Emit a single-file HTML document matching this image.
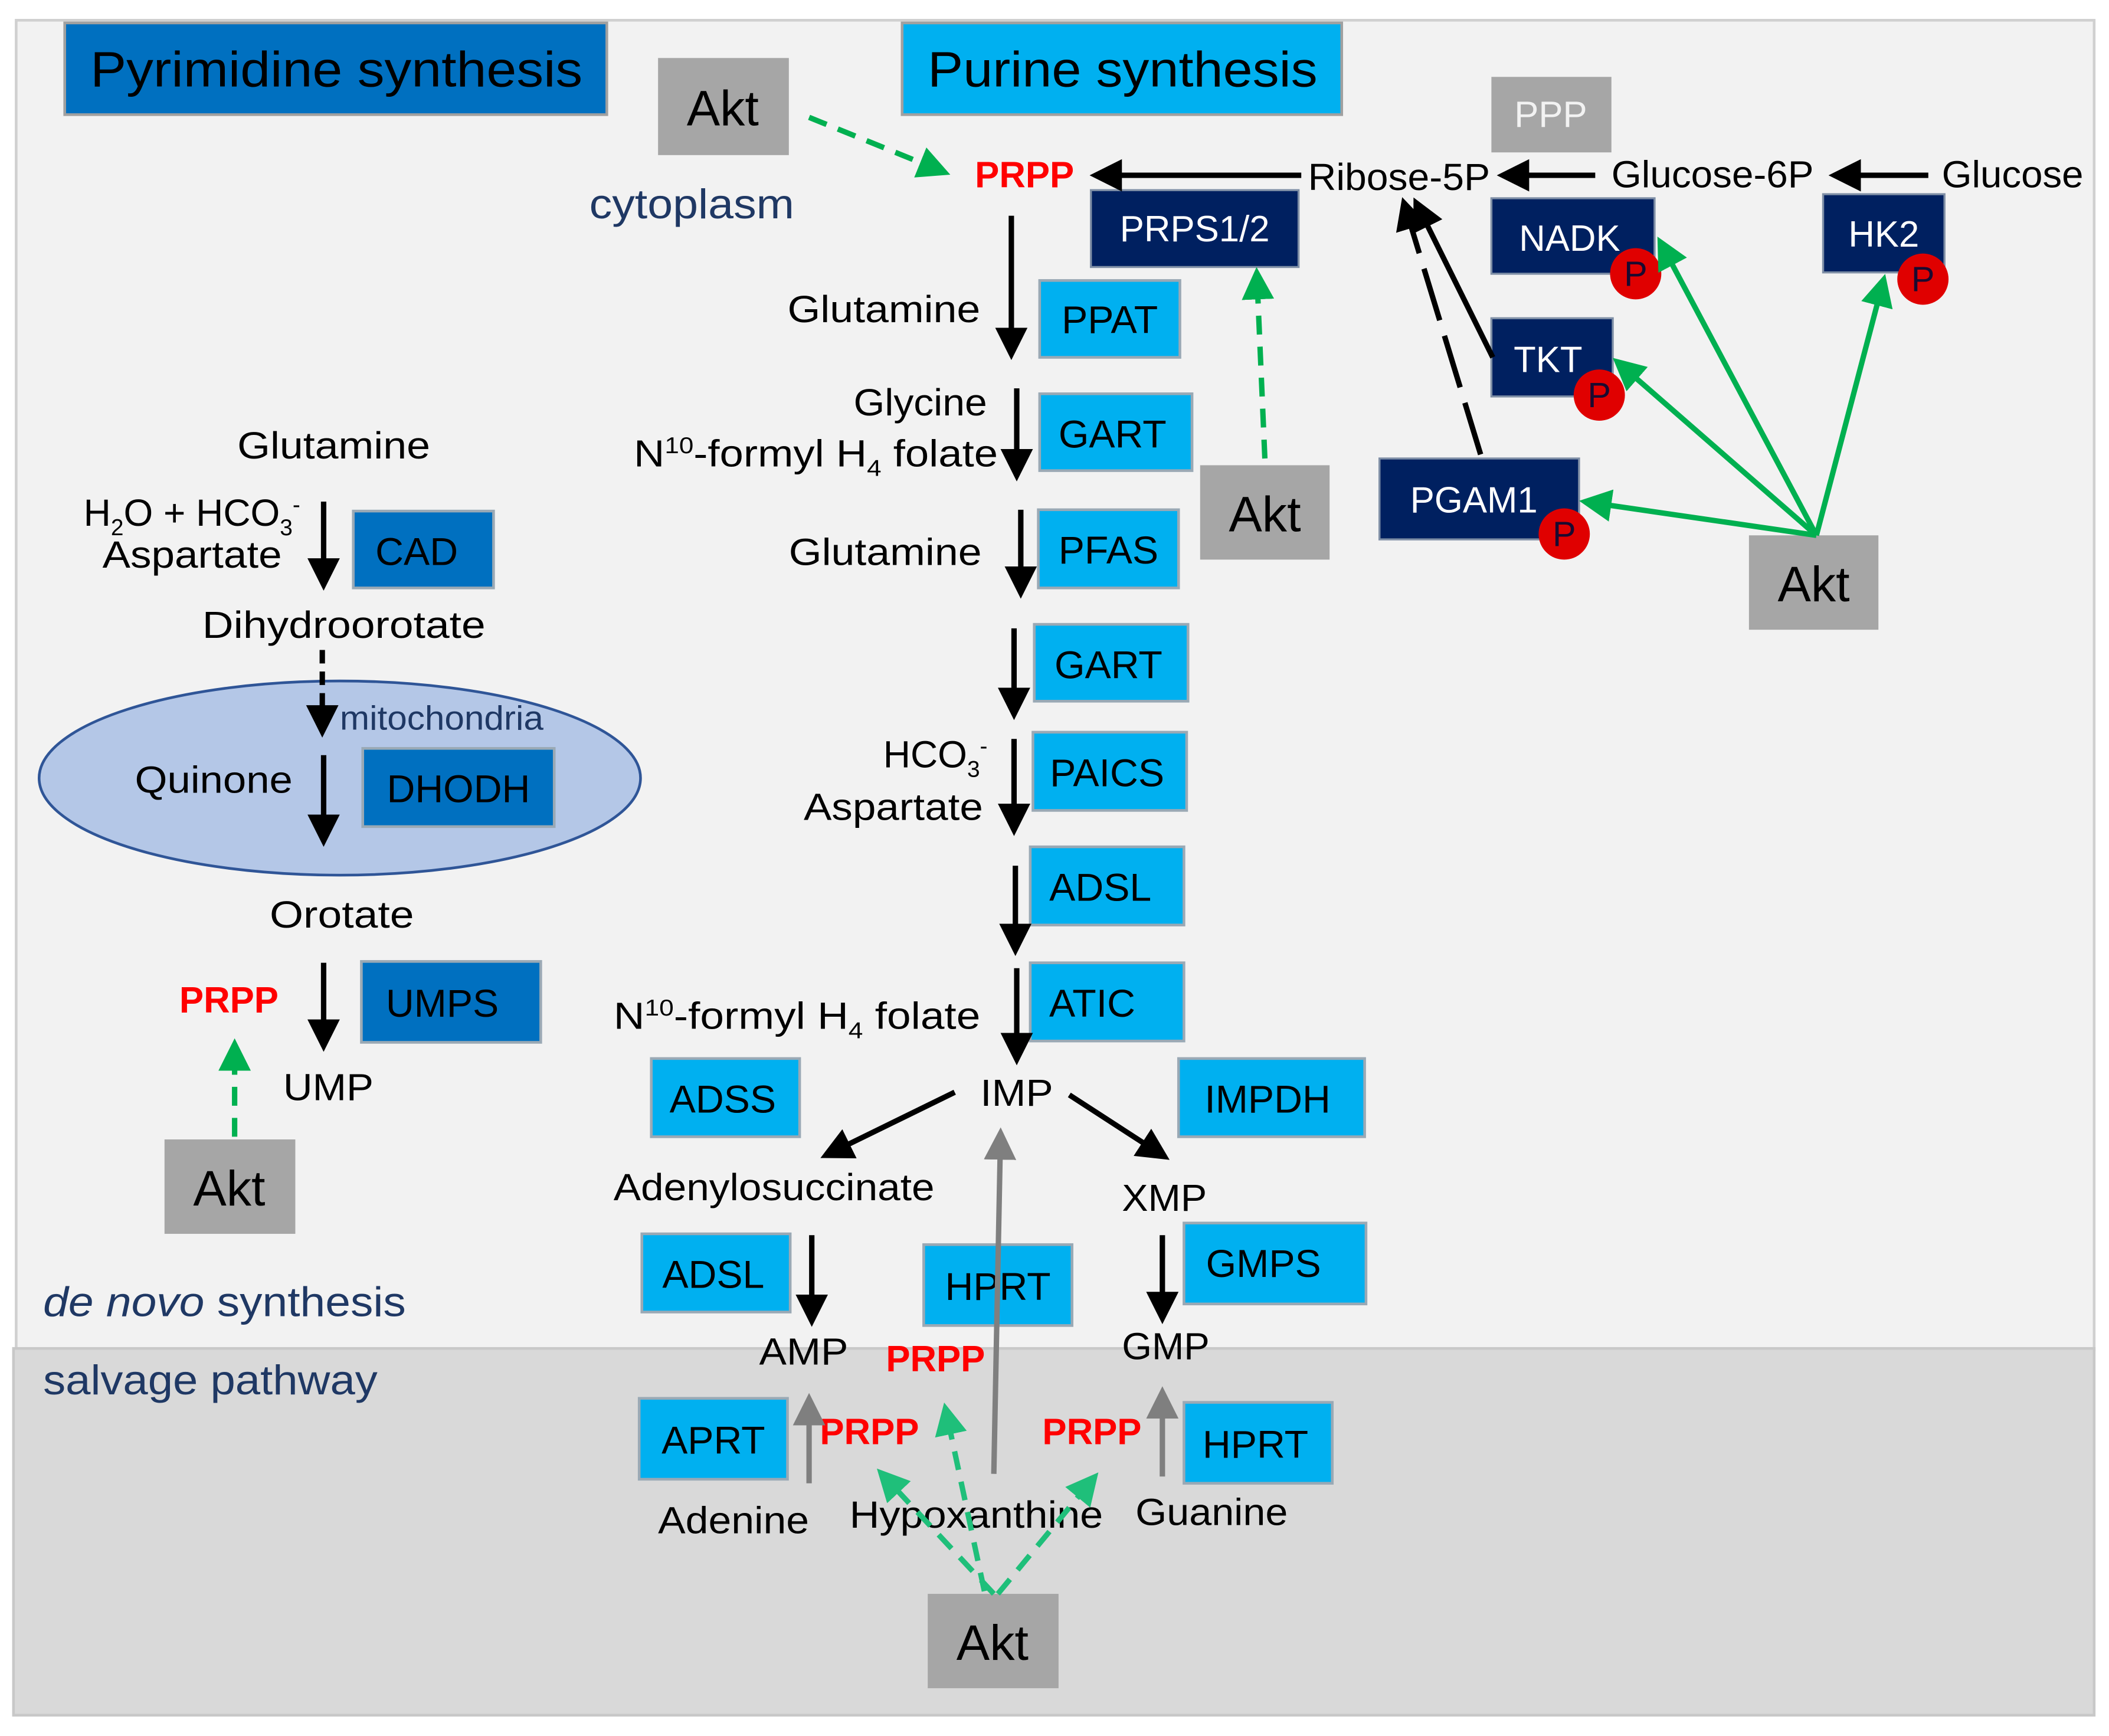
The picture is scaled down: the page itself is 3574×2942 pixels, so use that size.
<!DOCTYPE html>
<html><head><meta charset="utf-8"><style>
html,body{margin:0;padding:0;background:#fff;}
svg{display:block;}
text{font-family:"Liberation Sans",sans-serif;}
</style></head><body>
<svg width="3574" height="2942" viewBox="0 0 1564 1287.4" xmlns="http://www.w3.org/2000/svg">
<defs>
<marker id="ab" markerWidth="6" markerHeight="6" refX="5" refY="3" orient="auto" markerUnits="strokeWidth"><path d="M0,0 L6,3 L0,6 z" fill="#000"/></marker>
<marker id="ag" markerWidth="6" markerHeight="6" refX="5" refY="3" orient="auto" markerUnits="strokeWidth"><path d="M0,0 L6,3 L0,6 z" fill="#00b050"/></marker>
<marker id="at" markerWidth="6" markerHeight="6" refX="5" refY="3" orient="auto" markerUnits="strokeWidth"><path d="M0,0 L6,3 L0,6 z" fill="#1fbf7a"/></marker>
<marker id="agr" markerWidth="6" markerHeight="6" refX="5" refY="3" orient="auto" markerUnits="strokeWidth"><path d="M0,0 L6,3 L0,6 z" fill="#7f7f7f"/></marker>
</defs>
<rect x="0" y="0" width="1564" height="1288" fill="#fff"/>
<rect x="12" y="15" width="1541" height="986" fill="#f2f2f2" stroke="#d0d0d0" stroke-width="2"/>
<rect x="10" y="1000" width="1543" height="272" fill="#d9d9d9" stroke="#c8c8c8" stroke-width="2"/>

<g font-size="37" lengthAdjust="spacingAndGlyphs">
<rect x="48" y="17" width="402" height="68" fill="#0070c0" stroke="#a0a0a0" stroke-width="2"/>
<text x="67" y="64" textLength="365" lengthAdjust="spacingAndGlyphs">Pyrimidine synthesis</text>
<rect x="669" y="17" width="326" height="68" fill="#00b0f0" stroke="#a0a0a0" stroke-width="2"/>
<text x="688" y="64" textLength="289" lengthAdjust="spacingAndGlyphs">Purine synthesis</text>
</g>

<g fill="#a6a6a6">
<rect x="488" y="43" width="97" height="72"/><rect x="890" y="345" width="96" height="70"/>
<rect x="1297" y="397" width="96" height="70"/><rect x="122" y="845" width="97" height="70"/>
<rect x="688" y="1182" width="97" height="70"/>
</g>
<g font-size="37" text-anchor="middle">
<text x="536" y="93">Akt</text><text x="938" y="394">Akt</text><text x="1345" y="446">Akt</text>
<text x="170" y="894">Akt</text><text x="736" y="1231">Akt</text>
</g>
<rect x="1106" y="57" width="89" height="56" fill="#a6a6a6"/>
<text x="1150" y="94" font-size="27" fill="#f2f2f2" text-anchor="middle">PPP</text>

<g fill="#002060" stroke="#7f8fa6" stroke-width="1.5">
<rect x="809" y="141" width="154" height="57"/><rect x="1106" y="147" width="121" height="56"/>
<rect x="1352" y="144" width="90" height="58"/><rect x="1106" y="236" width="90" height="58"/>
<rect x="1023" y="340" width="148" height="60"/>
</g>
<g fill="#fff" font-size="27" text-anchor="middle">
<text x="886" y="179">PRPS1/2</text><text x="1164" y="186">NADK</text><text x="1397" y="183">HK2</text>
<text x="1148" y="276">TKT</text><text x="1093" y="380">PGAM1</text>
</g>
<g fill="#e00000">
<circle cx="1213" cy="203" r="19"/><circle cx="1186" cy="293" r="19"/><circle cx="1160" cy="396" r="19"/><circle cx="1426" cy="207" r="19"/>
</g>
<g font-size="26" fill="#1a0a30" text-anchor="middle">
<text x="1213" y="212">P</text><text x="1186" y="302">P</text><text x="1160" y="405">P</text><text x="1426" y="216">P</text>
</g>

<ellipse cx="252" cy="577" rx="223" ry="72" fill="#b4c7e7" stroke="#2f5597" stroke-width="2"/>

<g fill="#00b0f0" stroke="#9aa9b5" stroke-width="2">
<rect x="771" y="208" width="104" height="57"/><rect x="771" y="292" width="113" height="57"/>
<rect x="770" y="378" width="104" height="58"/><rect x="767" y="463" width="114" height="57"/>
<rect x="766" y="543" width="114" height="58"/><rect x="764" y="628" width="114" height="58"/>
<rect x="764" y="714" width="114" height="58"/><rect x="483" y="785" width="110" height="58"/>
<rect x="874" y="785" width="138" height="58"/><rect x="476" y="915" width="110" height="58"/>
<rect x="685" y="923" width="110" height="60"/><rect x="878" y="907" width="135" height="60"/>
<rect x="474" y="1037" width="110" height="60"/><rect x="878" y="1040" width="110" height="60"/>
</g>
<g fill="#0070c0" stroke="#9aa9b5" stroke-width="2">
<rect x="262" y="379" width="104" height="57"/><rect x="269" y="555" width="142" height="58"/>
<rect x="268" y="713" width="133" height="60"/>
</g>
<g font-size="29" text-anchor="middle">
<text x="823" y="247">PPAT</text><text x="825" y="332">GART</text><text x="822" y="418">PFAS</text>
<text x="822" y="503">GART</text><text x="821" y="583">PAICS</text><text x="816" y="668">ADSL</text>
<text x="810" y="754">ATIC</text><text x="536" y="825">ADSS</text><text x="940" y="825">IMPDH</text>
<text x="529" y="955">ADSL</text><text x="740" y="964">HPRT</text><text x="937" y="947">GMPS</text>
<text x="529" y="1078">APRT</text><text x="931" y="1081">HPRT</text>
<text x="309" y="419">CAD</text><text x="340" y="595">DHODH</text><text x="328" y="754">UMPS</text>
</g>

<g font-size="28">
<text x="970" y="141" textLength="135" lengthAdjust="spacingAndGlyphs">Ribose-5P</text>
<text x="1195" y="139" textLength="150" lengthAdjust="spacingAndGlyphs">Glucose-6P</text>
<text x="1440" y="139" textLength="105" lengthAdjust="spacingAndGlyphs">Glucose</text>
<text x="584" y="239" textLength="143" lengthAdjust="spacingAndGlyphs">Glutamine</text>
<text x="633" y="308" textLength="99" lengthAdjust="spacingAndGlyphs">Glycine</text>
<text x="470" y="346" textLength="270" lengthAdjust="spacingAndGlyphs">N<tspan font-size="17" dy="-10">10</tspan><tspan dy="10">-formyl H</tspan><tspan font-size="17" dy="7">4</tspan><tspan dy="-7"> folate</tspan></text>
<text x="585" y="419" textLength="143" lengthAdjust="spacingAndGlyphs">Glutamine</text>
<text x="655" y="569">HCO<tspan font-size="17" dy="7">3</tspan><tspan font-size="17" dy="-17">-</tspan></text>
<text x="596" y="608" textLength="133" lengthAdjust="spacingAndGlyphs">Aspartate</text>
<text x="455" y="763" textLength="272" lengthAdjust="spacingAndGlyphs">N<tspan font-size="17" dy="-10">10</tspan><tspan dy="10">-formyl H</tspan><tspan font-size="17" dy="7">4</tspan><tspan dy="-7"> folate</tspan></text>
<text x="727" y="820" textLength="54" lengthAdjust="spacingAndGlyphs">IMP</text>
<text x="455" y="890" textLength="238" lengthAdjust="spacingAndGlyphs">Adenylosuccinate</text>
<text x="832" y="898" textLength="63" lengthAdjust="spacingAndGlyphs">XMP</text>
<text x="563" y="1012" textLength="66" lengthAdjust="spacingAndGlyphs">AMP</text>
<text x="832" y="1008" textLength="65" lengthAdjust="spacingAndGlyphs">GMP</text>
<text x="488" y="1137" textLength="112" lengthAdjust="spacingAndGlyphs">Adenine</text>
<text x="630" y="1133" textLength="188" lengthAdjust="spacingAndGlyphs">Hypoxanthine</text>
<text x="842" y="1131" textLength="113" lengthAdjust="spacingAndGlyphs">Guanine</text>
<text x="176" y="340" textLength="143" lengthAdjust="spacingAndGlyphs">Glutamine</text>
<text x="62" y="390">H<tspan font-size="17" dy="7">2</tspan><tspan dy="-7">O + HCO</tspan><tspan font-size="17" dy="7">3</tspan><tspan font-size="17" dy="-17">-</tspan></text>
<text x="76" y="421" textLength="133" lengthAdjust="spacingAndGlyphs">Aspartate</text>
<text x="150" y="473" textLength="210" lengthAdjust="spacingAndGlyphs">Dihydroorotate</text>
<text x="100" y="588" textLength="117" lengthAdjust="spacingAndGlyphs">Quinone</text>
<text x="200" y="688" textLength="107" lengthAdjust="spacingAndGlyphs">Orotate</text>
<text x="210" y="816" textLength="67" lengthAdjust="spacingAndGlyphs">UMP</text>
</g>
<text x="252" y="541" font-size="25" fill="#1f3864" textLength="151" lengthAdjust="spacingAndGlyphs">mitochondria</text>
<text x="437" y="162" font-size="31" fill="#1f3864" textLength="152" lengthAdjust="spacingAndGlyphs">cytoplasm</text>
<text x="32" y="976" font-size="31" fill="#1f3864" textLength="269" lengthAdjust="spacingAndGlyphs"><tspan font-style="italic">de novo</tspan> synthesis</text>
<text x="32" y="1034" font-size="31" fill="#1f3864" textLength="248" lengthAdjust="spacingAndGlyphs">salvage pathway</text>

<g font-size="27" font-weight="bold" fill="#ff0000">
<text x="723" y="139">PRPP</text><text x="657" y="1017">PRPP</text><text x="608" y="1071">PRPP</text>
<text x="773" y="1071">PRPP</text><text x="133" y="751">PRPP</text>
</g>

<g stroke="#000" stroke-width="4" fill="none" marker-end="url(#ab)">
<line x1="750" y1="160" x2="750" y2="263"/><line x1="754" y1="288" x2="754" y2="353"/>
<line x1="757" y1="378" x2="757" y2="440"/><line x1="752" y1="466" x2="752" y2="530"/>
<line x1="752" y1="548" x2="752" y2="616"/><line x1="753" y1="642" x2="753" y2="705"/>
<line x1="754" y1="718" x2="754" y2="786"/>
<line x1="708" y1="810" x2="612" y2="857"/><line x1="793" y1="812" x2="864" y2="858"/>
<line x1="602" y1="916" x2="602" y2="980"/><line x1="862" y1="916" x2="862" y2="978"/>
<line x1="240" y1="372" x2="240" y2="434"/><line x1="239" y1="482" x2="239" y2="543" stroke-dasharray="10,6"/>
<line x1="240" y1="560" x2="240" y2="624"/><line x1="240" y1="714" x2="240" y2="776"/>
<line x1="965" y1="130" x2="812" y2="130"/><line x1="1183" y1="130" x2="1114" y2="130"/>
<line x1="1430" y1="130" x2="1360" y2="130"/>
<line x1="1107" y1="265" x2="1050" y2="150"/>
<line x1="1098" y1="337" x2="1041" y2="150" stroke-dasharray="40,12"/>
</g>
<g stroke="#7f7f7f" stroke-width="4" fill="none" marker-end="url(#agr)">
<line x1="600" y1="1100" x2="600" y2="1037"/><line x1="862" y1="1095" x2="862" y2="1032"/>
<line x1="737" y1="1093" x2="742" y2="840"/>
</g>
<g stroke="#00b050" stroke-width="4" fill="none" marker-end="url(#ag)">
<line x1="1347" y1="397" x2="1231" y2="179"/><line x1="1347" y1="397" x2="1199" y2="268"/>
<line x1="1347" y1="397" x2="1175" y2="372"/><line x1="1347" y1="397" x2="1397" y2="207"/>
<g stroke-dasharray="14,9">
<line x1="600" y1="87" x2="701" y2="128"/><line x1="938" y1="340" x2="932" y2="202"/>
<line x1="174" y1="843" x2="174" y2="774"/>
</g>
</g>
<g stroke="#1fbf7a" stroke-width="4" fill="none" stroke-dasharray="14,9" marker-end="url(#at)">
<line x1="737" y1="1182" x2="653" y2="1092"/><line x1="730" y1="1180" x2="701" y2="1044"/>
<line x1="740" y1="1182" x2="812" y2="1095"/>
</g>
</svg>
</body></html>
